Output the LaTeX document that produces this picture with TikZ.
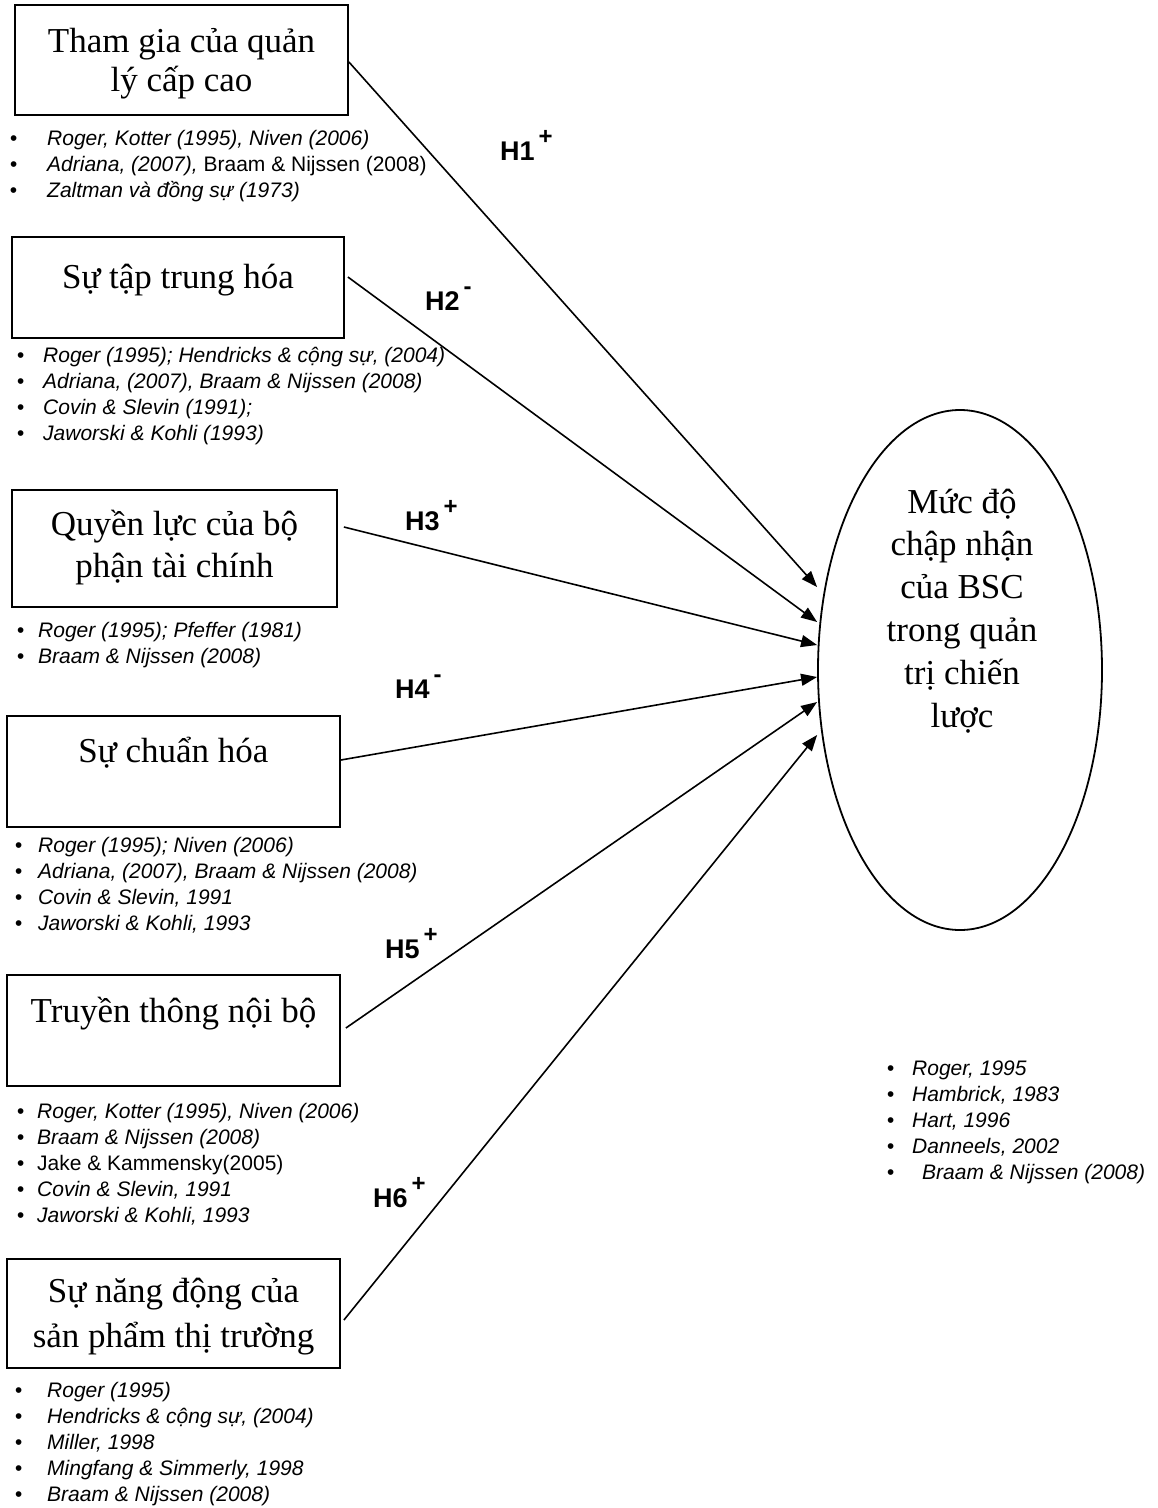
\documentclass[tikz,border=0pt]{standalone}
\usepackage{fontspec}
\setmainfont{Liberation Serif}
\newfontfamily\refsans{Liberation Sans}
\usetikzlibrary{shapes.geometric,arrows.meta}

% bullet hung to the left of a reference line, #1 = gap to the text in pt
\newcommand\bul[1]{\leavevmode\llap{\textbullet\hspace{#1pt}}}
% raised sign after a hypothesis number
\newcommand\hsign[1]{\hspace{4pt}\raisebox{16pt}{\fontsize{24}{24}\selectfont #1}}

\begin{document}
\begin{tikzpicture}[x=1pt,y=-1pt,
  factor/.style={draw, rectangle, line width=1.8pt, inner sep=0pt},
  ftext/.style={anchor=base, inner sep=0pt, font=\fontsize{35}{39}\selectfont},
  goal/.style={draw, ellipse, line width=1.8pt, inner sep=0pt,
    minimum width=284pt, minimum height=520pt},
  gtext/.style={anchor=base, inner sep=0pt, font=\fontsize{35}{42.8}\selectfont},
  hyp/.style={line width=1.6pt, -{Triangle[length=16pt,width=12pt]}},
  hlabel/.style={anchor=base west, inner sep=0pt,
    font=\refsans\bfseries\fontsize{27}{27}\selectfont},
  reflist/.style={anchor=base west, inner sep=0pt,
    font=\refsans\itshape\fontsize{21}{26}\selectfont}]

\useasboundingbox[fill=white] (0,0) rectangle (1158,1508);

% factor boxes
\node[factor, minimum width=333pt, minimum height=110pt] (f1) at (181.5,60) {};
\node[factor, minimum width=332pt, minimum height=101pt] (f2) at (178,287.5) {};
\node[factor, minimum width=325pt, minimum height=117pt] (f3) at (174.5,548.5) {};
\node[factor, minimum width=333pt, minimum height=111pt] (f4) at (173.5,771.5) {};
\node[factor, minimum width=333pt, minimum height=111pt] (f5) at (173.5,1030.5) {};
\node[factor, minimum width=333pt, minimum height=109pt] (f6) at (173.5,1313.5) {};

% box captions
\node[ftext] (f1t) at (181.5,52) {\parbox[t]{330pt}{\centering Tham gia của quản\\lý cấp cao}};
\node[ftext] (f2t) at (178,288) {\parbox[t]{330pt}{\centering Sự tập trung hóa}};
\node[ftext] (f3t) at (174.5,535) {\parbox[t]{320pt}{\centering Quyền lực của bộ\\[3pt]phận tài chính}};
\node[ftext] (f4t) at (173.5,762) {\parbox[t]{330pt}{\centering Sự chuẩn hóa}};
\node[ftext] (f5t) at (173.5,1022) {\parbox[t]{330pt}{\centering Truyền thông nội bộ}};
\node[ftext] (f6t) at (173.5,1302) {\parbox[t]{330pt}{\centering Sự năng động của\\[6pt]sản phẩm thị trường}};

% dependent construct
\node[goal] (g) at (960,670) {};
\node[gtext] (gt) at (962,513) {\parbox[t]{270pt}{\centering Mức độ\\chập nhận\\của BSC\\trong quản\\trị chiến\\lược}};

% hypothesised effects
\draw[hyp] ([yshift=-2pt]f1.east) -- ([yshift=83pt]g.west);
\draw[hyp] ([xshift=3pt,yshift=10.5pt]f2.east) -- ([yshift=48pt]g.west);
\draw[hyp] ([xshift=6pt,yshift=21.5pt]f3.east) -- ([yshift=25pt]g.west);
\draw[hyp] ([yshift=11.5pt]f4.east) -- ([yshift=-7pt]g.west);
\draw[hyp] ([xshift=5pt,yshift=2.5pt]f5.east) -- ([yshift=-32pt]g.west);
\draw[hyp] ([xshift=3pt,yshift=-6.5pt]f6.east) -- ([yshift=-65pt]g.west);

% hypothesis labels
\node[hlabel] (h1) at (500,160) {H1\hsign{+}};
\node[hlabel] (h2) at (425,310) {H2\hsign{-}};
\node[hlabel] (h3) at (405,530) {H3\hsign{+}};
\node[hlabel] (h4) at (395,698) {H4\hsign{-}};
\node[hlabel] (h5) at (385,958) {H5\hsign{+}};
\node[hlabel] (h6) at (373,1207) {H6\hsign{+}};

% supporting literature
\node[reflist] (r1) at (47,145) {\parbox[t]{500pt}{\raggedright
  \bul{30}Roger, Kotter (1995), Niven (2006)\\
  \bul{30}Adriana, (2007), \upshape Braam \& Nijssen (2008)\\
  \bul{30}\itshape Zaltman và đồng sự (1973)}};
\node[reflist] (r2) at (43,362) {\parbox[t]{500pt}{\raggedright
  \bul{19}Roger (1995); Hendricks \& cộng sự, (2004)\\
  \bul{19}Adriana, (2007), Braam \& Nijssen (2008)\\
  \bul{19}Covin \& Slevin (1991);\\
  \bul{19}Jaworski \& Kohli (1993)}};
\node[reflist] (r3) at (38,637) {\parbox[t]{500pt}{\raggedright
  \bul{14}Roger (1995); Pfeffer (1981)\\
  \bul{14}Braam \& Nijssen (2008)}};
\node[reflist] (r4) at (38,852) {\parbox[t]{500pt}{\raggedright
  \bul{16}Roger (1995); Niven (2006)\\
  \bul{16}Adriana, (2007), Braam \& Nijssen (2008)\\
  \bul{16}Covin \& Slevin, 1991\\
  \bul{16}Jaworski \& Kohli, 1993}};
\node[reflist] (r5) at (37,1118) {\parbox[t]{500pt}{\raggedright
  \bul{13}Roger, Kotter (1995), Niven (2006)\\
  \bul{13}Braam \& Nijssen (2008)\\
  \bul{13}{\upshape Jake \& Kammensky(2005)}\\
  \bul{13}Covin \& Slevin, 1991\\
  \bul{13}Jaworski \& Kohli, 1993}};
\node[reflist] (r6) at (47,1397) {\parbox[t]{500pt}{\raggedright
  \bul{25}Roger (1995)\\
  \bul{25}Hendricks \& cộng sự, (2004)\\
  \bul{25}Miller, 1998\\
  \bul{25}Mingfang \& Simmerly, 1998\\
  \bul{25}Braam \& Nijssen (2008)}};
\node[reflist] (r7) at (912,1075) {\parbox[t]{300pt}{\raggedright
  \bul{18}Roger, 1995\\
  \bul{18}Hambrick, 1983\\
  \bul{18}Hart, 1996\\
  \bul{18}Danneels, 2002\\
  \bul{18}\hspace*{10pt}Braam \& Nijssen (2008)}};
\end{tikzpicture}
\end{document}
